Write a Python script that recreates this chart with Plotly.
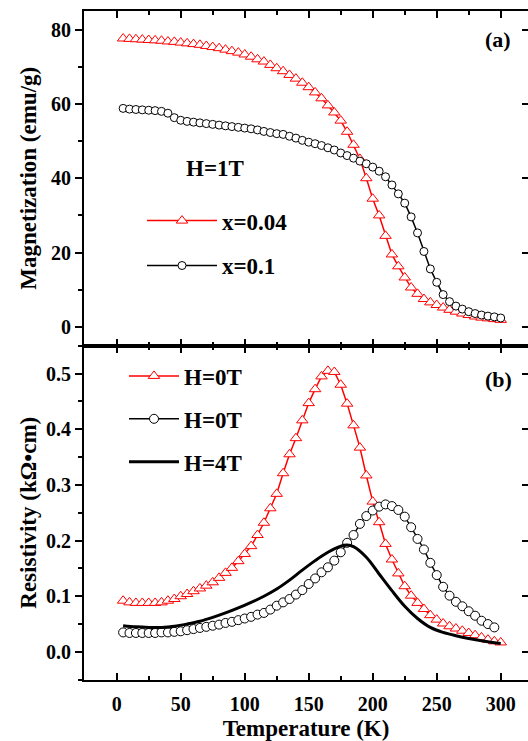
import plotly.graph_objects as go

# ---------------- data ----------------
T_mag = list(range(5, 301, 5))
M_x004 = [77.6, 77.5, 77.4, 77.3, 77.2, 77.1, 77.0, 76.8, 76.7, 76.5,
          76.3, 76.1, 75.9, 75.6, 75.3, 75.0, 74.6, 74.2, 73.8, 73.3,
          72.7, 72.0, 71.4, 70.5, 69.6, 68.8, 67.8, 66.8, 65.7, 64.5,
          63.1, 61.5, 59.6, 57.7, 55.5, 52.5, 49.0, 45.2, 40.0, 34.5,
          30.0, 24.5, 19.5, 16.3, 13.3, 10.6, 8.9, 7.5, 6.6, 5.9,
          5.2, 4.6, 4.1, 3.6, 3.2, 2.8, 2.5, 2.3, 2.1, 1.9]
M_x01 = [58.8, 58.6, 58.5, 58.4, 58.3, 58.2, 58.0, 57.5, 56.3, 55.6,
         55.3, 55.1, 54.9, 54.7, 54.5, 54.3, 54.1, 53.9, 53.7, 53.5,
         53.3, 53.0, 52.6, 52.3, 52.0, 51.8, 51.3, 50.8, 50.2, 49.7,
         49.3, 48.8, 48.2, 47.6, 46.8, 46.1, 45.4, 44.6, 43.9, 43.0,
         41.9, 40.4, 38.2, 35.8, 33.3, 29.6, 25.3, 20.3, 15.6, 12.0,
         8.7, 6.8, 5.6, 4.8, 4.1, 3.6, 3.2, 2.9, 2.7, 2.4]

T_rho_red = list(range(5, 301, 5))
R_red_0T = [0.092, 0.089, 0.088, 0.088, 0.088, 0.088, 0.089, 0.092, 0.095, 0.100,
            0.104, 0.109, 0.114, 0.119, 0.125, 0.133, 0.142, 0.151, 0.163, 0.176,
            0.190, 0.210, 0.232, 0.258, 0.284, 0.321, 0.355, 0.384, 0.416, 0.447,
            0.472, 0.495, 0.505, 0.503, 0.480, 0.446, 0.407, 0.367, 0.317, 0.270,
            0.233, 0.194, 0.166, 0.141, 0.118, 0.101, 0.088, 0.077, 0.066, 0.058,
            0.051, 0.046, 0.042, 0.038, 0.034, 0.030, 0.026, 0.022, 0.019, 0.017]
T_rho_blk = list(range(5, 296, 5))
R_blk_0T = [0.035, 0.034, 0.034, 0.034, 0.034, 0.034, 0.035, 0.035, 0.036, 0.037,
            0.039, 0.041, 0.043, 0.045, 0.047, 0.049, 0.052, 0.054, 0.057, 0.060,
            0.063, 0.067, 0.070, 0.076, 0.083, 0.089, 0.095, 0.103, 0.111, 0.122,
            0.132, 0.143, 0.152, 0.164, 0.179, 0.196, 0.210, 0.230, 0.244, 0.254,
            0.261, 0.265, 0.262, 0.255, 0.243, 0.224, 0.203, 0.184, 0.160, 0.138,
            0.117, 0.101, 0.090, 0.082, 0.073, 0.065, 0.056, 0.050, 0.044]
T_4T = [5, 15, 25, 35, 45, 55, 65, 75, 85, 95,
        105, 115, 125, 135, 145, 155, 165, 175, 180, 185,
        195, 205, 215, 225, 235, 245, 255, 265, 275, 285, 300]
R_4T = [0.047, 0.045, 0.044, 0.044, 0.046, 0.050, 0.055, 0.062, 0.070, 0.079,
        0.089, 0.100, 0.113, 0.129, 0.147, 0.164, 0.179, 0.190, 0.192, 0.189,
        0.170, 0.140, 0.110, 0.082, 0.060, 0.044, 0.035, 0.029, 0.024, 0.020, 0.015]

x_ticks = [0, 50, 100, 150, 200, 250, 300]
M_ticks = [0, 20, 40, 60, 80]
R_ticks = [0.0, 0.1, 0.2, 0.3, 0.4, 0.5]
R_tick_text = ["0.0", "0.1", "0.2", "0.3", "0.4", "0.5"]

# ---------------- styles ----------------
FONT = "Liberation Serif, Times New Roman, serif"
RED = "#ff0000"
BLK = "#000000"

W, H = 528, 741
ML, MR, MT, MB = 84, 0, 11, 58
plot_w = W - ML - MR
plot_h = H - MT - MB


def px(xp):
    return (xp - ML) / plot_w


def py(yp):
    return (H - MB - yp) / plot_h


fig = go.Figure()

# top panel
fig.add_trace(go.Scatter(x=T_mag, y=M_x004, mode="lines+markers", name="x=0.04",
                         line=dict(color=RED, width=1.5),
                         marker=dict(symbol="triangle-up", size=10, color="white",
                                     line=dict(color=RED, width=1)),
                         xaxis="x", yaxis="y", legend="legend", legendgroup="a"))
fig.add_trace(go.Scatter(x=T_mag, y=M_x01, mode="lines+markers", name="x=0.1",
                         line=dict(color=BLK, width=1.5),
                         marker=dict(symbol="circle", size=8, color="white",
                                     line=dict(color=BLK, width=1)),
                         xaxis="x", yaxis="y", legend="legend", legendgroup="b"))
# bottom panel
fig.add_trace(go.Scatter(x=T_rho_red, y=R_red_0T, mode="lines+markers", name="H=0T",
                         line=dict(color=RED, width=1.5),
                         marker=dict(symbol="triangle-up", size=10, color="white",
                                     line=dict(color=RED, width=1)),
                         xaxis="x2", yaxis="y2", legend="legend2", legendgroup="c"))
fig.add_trace(go.Scatter(x=T_rho_blk, y=R_blk_0T, mode="lines+markers", name="H=0T",
                         line=dict(color=BLK, width=1.5),
                         marker=dict(symbol="circle", size=9, color="white",
                                     line=dict(color=BLK, width=1)),
                         xaxis="x2", yaxis="y2", legend="legend2", legendgroup="d"))
fig.add_trace(go.Scatter(x=T_4T, y=R_4T, mode="lines", name="H=4T",
                         line=dict(color=BLK, width=3, shape="spline"),
                         xaxis="x2", yaxis="y2", legend="legend2", legendgroup="e"))
# placeholder traces so the right-hand tick axes are drawn
fig.add_trace(go.Scatter(x=[None], y=[None], xaxis="x", yaxis="y3", showlegend=False,
                         hoverinfo="skip"))
fig.add_trace(go.Scatter(x=[None], y=[None], xaxis="x2", yaxis="y4", showlegend=False,
                         hoverinfo="skip"))

tickfont = dict(family=FONT, size=20, color="black", weight="bold")
titlefont = dict(family=FONT, size=23, color="black", weight="bold")

xcommon = dict(range=[-25.55, 321.3], tickvals=x_ticks, ticks="inside", ticklen=7,
               tickwidth=2, tickcolor="black", showline=True, linewidth=2,
               linecolor="black", mirror="ticks", showgrid=False, zeroline=False,
               minor=dict(dtick=25, tick0=0, ticks="inside", ticklen=4, tickwidth=1.5,
                          tickcolor="black", showgrid=False),
               tickfont=tickfont)

fig.update_layout(
    width=W, height=H,
    margin=dict(l=ML, r=MR, t=MT, b=MB),
    paper_bgcolor="white", plot_bgcolor="white",
    showlegend=True,
    xaxis=dict(xcommon, anchor="y", domain=[0, 1], showticklabels=False),
    xaxis2=dict(xcommon, anchor="y2", domain=[0, 1], matches="x",
                ticklabelstandoff=5,
                title=dict(text="Temperature (K)", font=titlefont, standoff=10)),
    yaxis=dict(domain=[0.5, 1], anchor="x", range=[-5.0, 85.0], tickvals=M_ticks,
               ticks="outside", ticklen=7, tickwidth=2, tickcolor="black",
               showline=True, linewidth=2, linecolor="black", mirror=False,
               showgrid=False, zeroline=False, tickfont=tickfont,
               minor=dict(dtick=10, tick0=0, ticks="outside", ticklen=4, tickwidth=1.5,
                          tickcolor="black"),
               title=dict(text="Magnetization (emu/g)", font=titlefont, standoff=8)),
    yaxis2=dict(domain=[0, 0.5], anchor="x2", range=[-0.0505, 0.5505], tickvals=R_ticks,
                ticktext=R_tick_text,
                ticks="outside", ticklen=7, tickwidth=2, tickcolor="black",
                showline=True, linewidth=2, linecolor="black", mirror=False,
                showgrid=False, zeroline=False, tickfont=tickfont,
                minor=dict(dtick=0.05, tick0=0, ticks="outside", ticklen=4, tickwidth=1.5,
                           tickcolor="black"),
                title=dict(text="Resistivity (kΩ•cm)", font=titlefont, standoff=3)),
    yaxis3=dict(overlaying="y", side="right", anchor="x", matches="y",
                tickvals=M_ticks, ticks="inside", ticklen=6, tickwidth=2,
                tickcolor="black", showticklabels=False, showline=False,
                showgrid=False, zeroline=False),
    yaxis4=dict(overlaying="y2", side="right", anchor="x2", matches="y2",
                tickvals=R_ticks, ticks="inside", ticklen=6, tickwidth=2,
                tickcolor="black", showticklabels=False, showline=False,
                showgrid=False, zeroline=False),
    legend=dict(x=px(142), y=py(200), xanchor="left", yanchor="top",
                bgcolor="rgba(0,0,0,0)", borderwidth=0, itemwidth=70,
                tracegroupgap=12, font=dict(family=FONT, size=23, color="black",
                                            weight="bold")),
    legend2=dict(x=px(124), y=py(356), xanchor="left", yanchor="top",
                 bgcolor="rgba(0,0,0,0)", borderwidth=0, itemwidth=50,
                 tracegroupgap=10, font=dict(family=FONT, size=23, color="black",
                                             weight="bold")),
    annotations=[
        dict(text="H=1T", x=px(215), y=py(169), xref="paper", yref="paper",
             xanchor="center", yanchor="middle", showarrow=False,
             font=dict(family=FONT, size=23, color="black", weight="bold")),
        dict(text="(a)", x=px(498), y=py(40), xref="paper", yref="paper",
             xanchor="center", yanchor="middle", showarrow=False,
             font=dict(family=FONT, size=22, color="black", weight="bold")),
        dict(text="(b)", x=px(498), y=py(381), xref="paper", yref="paper",
             xanchor="center", yanchor="middle", showarrow=False,
             font=dict(family=FONT, size=22, color="black", weight="bold")),
    ],
)

fig.write_html("out.html",
               config={"displayModeBar": False},
               post_script="document.body.style.margin='0';"
                           "document.body.style.padding='0';")
